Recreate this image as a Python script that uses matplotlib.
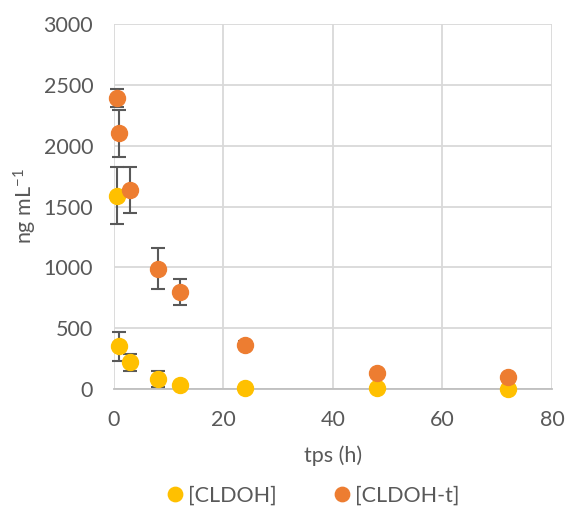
import matplotlib
matplotlib.use("Agg")
import matplotlib.pyplot as plt

# temps (h) et concentrations (ng/mL)
t_cldoh = [0.5, 1, 3, 8, 12, 24, 48, 72]
cldoh = [1590, 350, 218, 82, 35, 12, 6, 4]
cldoh_err = [235, 118, 73, 62, 0, 0, 0, 0]

t_cldoh_t = [0.5, 1, 3, 8, 12, 24, 48, 72]
cldoh_t = [2390, 2100, 1635, 990, 797, 360, 132, 95]
cldoh_t_err = [75, 197, 186, 167, 107, 35, 0, 0]

labels = ["[CLDOH]", "[CLDOH-t]"]
colors = ["#FFC000", "#ED7D31"]

plt.rcParams["font.family"] = ["Lato", "DejaVu Sans"]
plt.rcParams["mathtext.default"] = "regular"

fig = plt.figure(figsize=(5.65, 5.07), dpi=100)
ax = fig.add_axes([0.2018, 0.2327, 0.775, 0.72])

for t, y, e, lab, c in [(t_cldoh, cldoh, cldoh_err, labels[0], colors[0]),
                        (t_cldoh_t, cldoh_t, cldoh_t_err, labels[1], colors[1])]:
    ax.errorbar(t, y, yerr=e, fmt="none", ecolor="#595959", elinewidth=1.5,
                capsize=5, capthick=1.5, zorder=2, clip_on=False)
    ax.plot(t, y, "o", color=c, ms=11.5, label=lab, zorder=3, clip_on=False)

ax.set_xlim(0, 80)
ax.set_ylim(0, 3000)
ax.set_xticks(range(0, 81, 20))
ax.set_yticks(range(0, 3001, 500))
ax.grid(True, color="#d9d9d9", linewidth=1.3)
ax.set_axisbelow(True)
for s in ["top", "right", "left"]:
    ax.spines[s].set_visible(False)
ax.spines["bottom"].set_color("#bfbfbf")
ax.spines["bottom"].set_linewidth(1.3)
ax.spines["bottom"].set_zorder(1)
ax.tick_params(length=0, labelsize=15.5, labelcolor="#595959")
ax.tick_params(axis="y", pad=15)
ax.tick_params(axis="x", pad=15)

ax.set_xlabel("tps (h)", fontsize=15.5, color="#595959", labelpad=11)
ax.set_ylabel("ng mL$^{-1}$", fontsize=15.5, color="#595959", labelpad=3)

fig.legend(loc="lower center", bbox_to_anchor=(0.55, -0.035), ncol=2, frameon=False,
           fontsize=15.5, labelcolor="#595959", handletextpad=0.0, columnspacing=2.4,
           handlelength=1.2, markerscale=0.9)

fig.savefig("out.png", dpi=100)
